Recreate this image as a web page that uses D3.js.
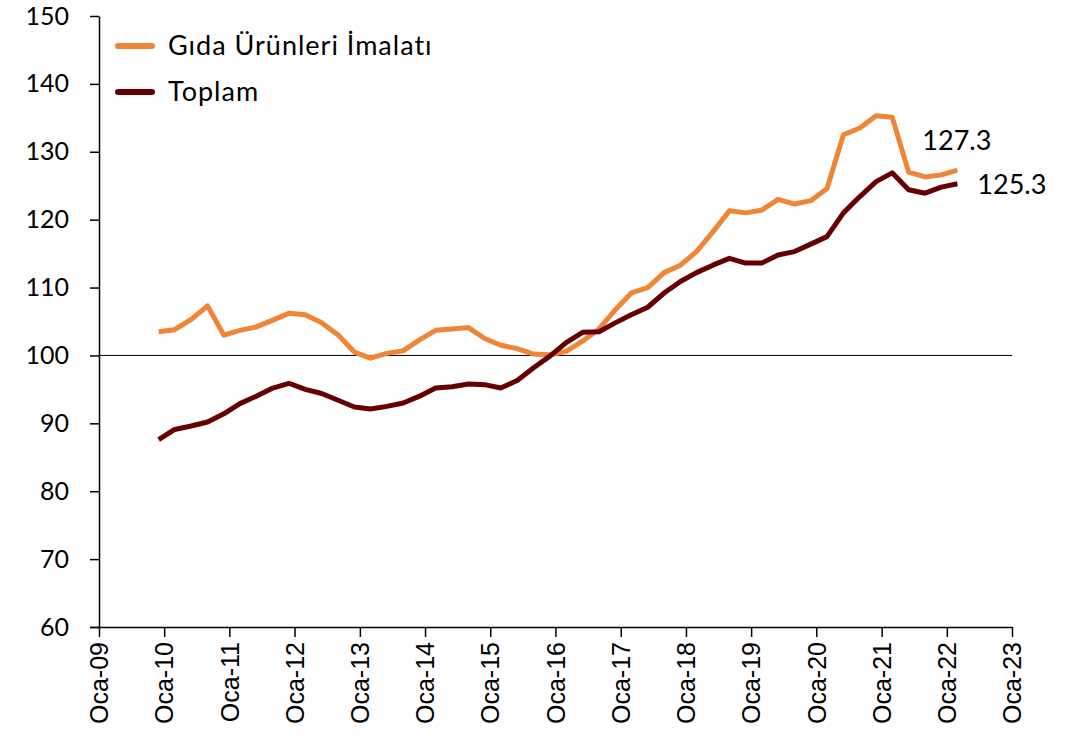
<!DOCTYPE html>
<html>
<head>
<meta charset="utf-8">
<script src="https://cdn.jsdelivr.net/npm/d3@7"></script>
<style>
  body { margin: 0; background: #fff; }
  .yAxis text { font-family: Lato, "Noto Sans", sans-serif; font-size: 25px; fill: #000; }
  .xAxis text { font-family: "Liberation Sans", Arial, sans-serif; font-size: 25px; fill: #000; }
  .legend text { font-family: Lato, "Noto Sans", sans-serif; font-size: 27px; letter-spacing: 1px; fill: #000; }
  .endLabel { font-family: Lato, "Noto Sans", sans-serif; font-size: 27px; fill: #000; }
</style>
</head>
<body>
<script>
// quarterly index, 2009Q4 .. 2022Q1 (plotted at last month of each quarter)
var startYear = 2009, startMonth = 11;
var gida = [103.5, 103.8, 105.3, 107.3, 103.0, 103.7, 104.2, 105.2, 106.2, 106.0,
            104.8, 103.0, 100.5, 99.6, 100.3, 100.7, 102.3, 103.7, 103.9, 104.1,
            102.5, 101.5, 101.0, 100.2, 100.1, 100.6, 102.1, 103.9, 106.7, 109.2,
            110.0, 112.2, 113.3, 115.3, 118.2, 121.3, 121.0, 121.4, 123.0, 122.3,
            122.8, 124.6, 132.5, 133.5, 135.3, 135.1, 127.0, 126.3, 126.6, 127.3];
var toplam = [87.6, 89.1, 89.6, 90.2, 91.4, 92.9, 94.0, 95.2, 95.9, 95.0,
              94.4, 93.4, 92.4, 92.1, 92.5, 93.0, 94.0, 95.2, 95.4, 95.8,
              95.7, 95.2, 96.3, 98.2, 99.9, 101.9, 103.4, 103.5, 104.8, 106.0,
              107.1, 109.2, 110.9, 112.2, 113.3, 114.3, 113.6, 113.6, 114.8, 115.3,
              116.4, 117.5, 121.0, 123.4, 125.6, 126.9, 124.4, 123.9, 124.8, 125.3];
var seriesNames = ["Gıda Ürünleri İmalatı", "Toplam"];
var seriesColors = ["#F08536", "#660000"];
var yTicks = [60, 70, 80, 90, 100, 110, 120, 130, 140, 150];
var xTickYears = d3.range(2009, 2024);
var xTickLabels = xTickYears.map(function(y) { return "Oca-" + String(y).slice(2); });

var dates = gida.map(function(d, i) { return new Date(startYear, startMonth + 3 * i, 1); });

var margin = {top: 16, left: 99, right: 72, bottom: 118};
var svgWidth = 1084, svgHeight = 745;
var width = svgWidth - margin.left - margin.right;
var height = svgHeight - margin.top - margin.bottom;

var svg = d3.select("body").append("svg")
    .attr("width", svgWidth)
    .attr("height", svgHeight)
    .append("g")
        .attr("transform", "translate(" + margin.left + "," + margin.top + ")");

var xScale = d3.scaleTime()
    .domain([new Date(2009, 0, 1), new Date(2023, 0, 1)])
    .range([0, width]);

var yScale = d3.scaleLinear()
    .domain([60, 150])
    .range([height, 0]);

// reference line at 100
svg.append("line")
    .attr("x1", 0).attr("x2", width)
    .attr("y1", yScale(100)).attr("y2", yScale(100))
    .attr("stroke", "#000").attr("stroke-width", 1);

svg.append("g")
    .attr("class", "yAxis")
    .call(d3.axisLeft(yScale).tickValues(yTicks).tickSize(9).tickPadding(21).tickSizeOuter(0))
    .call(function(g) { g.selectAll("path, line").attr("stroke", "#000").attr("stroke-width", 1.5); });

svg.append("g")
    .attr("class", "xAxis")
    .attr("transform", "translate(0," + height + ")")
    .call(d3.axisBottom(xScale)
        .tickValues(xTickYears.map(function(y) { return new Date(y, 0, 1); }))
        .tickFormat(function(d, i) { return xTickLabels[i]; })
        .tickSize(10).tickSizeOuter(0))
    .call(function(g) {
        g.selectAll("path, line").attr("stroke", "#000").attr("stroke-width", 1.5);
        g.select(".domain").attr("d", "M-9,0.5H" + width);
    })
    .selectAll("text")
        .attr("transform", "rotate(-90)")
        .attr("text-anchor", "end")
        .attr("dy", "0.35em")
        .attr("x", -15)
        .attr("y", 0);

var line = d3.line()
    .x(function(d, i) { return xScale(dates[i]); })
    .y(function(d) { return yScale(d); });

[gida, toplam].forEach(function(vals, k) {
    svg.append("path")
        .datum(vals)
        .attr("fill", "none")
        .attr("stroke", seriesColors[k])
        .attr("stroke-width", 5)
        .attr("stroke-linejoin", "round")
        .attr("d", line);
});

// end labels
var last = gida.length - 1;
svg.append("text").attr("class", "endLabel")
    .attr("x", xScale(dates[last]) - 35)
    .attr("y", yScale(gida[last]) - 20)
    .text(gida[last].toFixed(1));
svg.append("text").attr("class", "endLabel")
    .attr("x", xScale(dates[last]) + 20)
    .attr("y", yScale(toplam[last]) + 10)
    .text(toplam[last].toFixed(1));

// legend
var legend = svg.append("g").attr("class", "legend")
    .attr("transform", "translate(19,30)");
seriesNames.forEach(function(name, k) {
    var g = legend.append("g").attr("transform", "translate(0," + (k * 46) + ")");
    g.append("line")
        .attr("x1", 0).attr("x2", 34)
        .attr("stroke", seriesColors[k])
        .attr("stroke-width", 6)
        .attr("stroke-linecap", "round");
    g.append("text")
        .attr("x", 50)
        .attr("y", 9)
        .text(name);
});
</script>
</body>
</html>
